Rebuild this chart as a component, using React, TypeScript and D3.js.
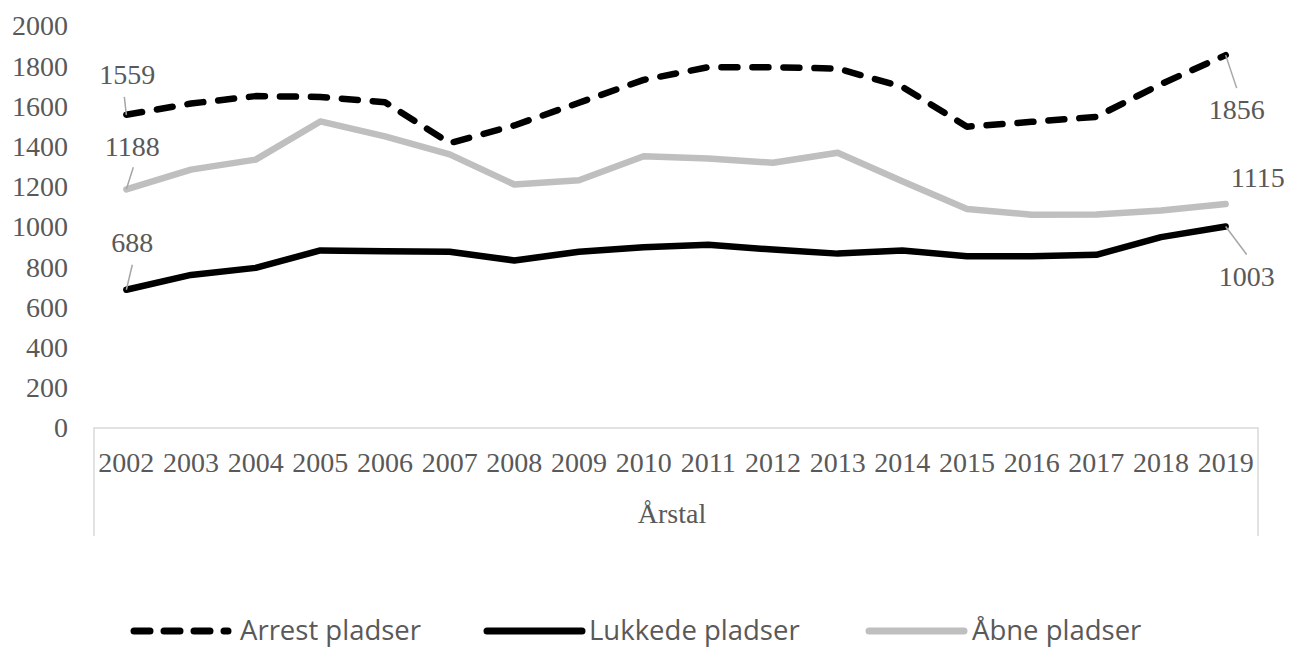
import React, { useEffect } from 'react';
import { line, scaleBand, scaleLinear } from 'd3';

const years = [
  '2002', '2003', '2004', '2005', '2006', '2007', '2008', '2009', '2010',
  '2011', '2012', '2013', '2014', '2015', '2016', '2017', '2018', '2019',
];
const arrestPladser = [
  1559, 1615, 1652, 1648, 1622, 1418, 1506, 1619, 1733, 1796, 1796, 1789,
  1698, 1500, 1524, 1549, 1712, 1856,
];
const lukkedePladser = [
  688, 762, 797, 884, 880, 877, 834, 877, 900, 912, 888, 868, 884, 855, 855,
  862, 950, 1003,
];
const aabnePladser = [
  1188, 1286, 1336, 1526, 1452, 1362, 1212, 1233, 1353, 1341, 1320, 1370,
  1228, 1090, 1062, 1063, 1083, 1115,
];
const yTicks = [0, 200, 400, 600, 800, 1000, 1200, 1400, 1600, 1800, 2000];
const seriesNames = ['Arrest pladser', 'Lukkede pladser', 'Åbne pladser'];
const xTitle = 'Årstal';

const W = 1290;
const H = 650;
const serif = '"Liberation Serif", "Times New Roman", serif';
const sans = '"Open Sans", "Noto Sans", sans-serif';
const textColor = '#595959';

const App: React.FC = () => {
  useEffect(() => {
    document.body.style.margin = '0';
  }, []);

  const xScale = scaleBand<string>().domain(years).range([94, 1258]);
  const yScale = scaleLinear().domain([0, 2000]).range([428, 26.2]);
  const cx = (i: number) => (xScale(years[i]) as number) + xScale.bandwidth() / 2;

  const lineGenerator = line<number>()
    .x((_, i) => cx(i))
    .y((d) => yScale(d));

  const series = [
    { name: seriesNames[0], values: arrestPladser, color: '#000000', dash: '16,15' },
    { name: seriesNames[1], values: lukkedePladser, color: '#000000', dash: undefined },
    { name: seriesNames[2], values: aabnePladser, color: '#bfbfbf', dash: undefined },
  ];

  // end-point labels: [series, index, label dx, label dy, leader end dx, leader end dy]
  const labels: Array<[number[], number, number, number, number, number]> = [
    [arrestPladser, 0, 1, -40, -2, -18],
    [aabnePladser, 0, 6, -43, 7, -22],
    [lukkedePladser, 0, 6, -47, 6, -25],
    [arrestPladser, 17, 11, 55, 11, 33],
    [aabnePladser, 17, 32, -26, 0, 0],
    [lukkedePladser, 17, 21, 50, 21, 28],
  ];

  const legend = [
    { x1: 134, x2: 228, tx: 240 },
    { x1: 487, x2: 582, tx: 589 },
    { x1: 869, x2: 964, tx: 972 },
  ];

  const boxTop = 428;
  const boxBottom = 536;
  const x0 = xScale.range()[0];
  const x1 = xScale.range()[1];

  return (
    <svg width={W} height={H} style={{ display: 'block', background: '#fff' }}>
      {/* category box */}
      <path
        d={`M${x0},${boxBottom}V${boxTop}H${x1}V${boxBottom}`}
        fill="none"
        stroke="#d9d9d9"
        strokeWidth={1.5}
      />

      {/* y tick labels */}
      {yTicks.map((t) => (
        <text
          key={t}
          x={68}
          y={yScale(t)}
          dy="0.33em"
          textAnchor="end"
          fontFamily={serif}
          fontSize={28}
          fill={textColor}
        >
          {t}
        </text>
      ))}

      {/* x tick labels */}
      {years.map((y, i) => (
        <text
          key={y}
          x={cx(i)}
          y={472}
          textAnchor="middle"
          fontFamily={serif}
          fontSize={28}
          fill={textColor}
        >
          {y}
        </text>
      ))}
      <text
        x={(x0 + x1) / 2 - 4}
        y={523}
        textAnchor="middle"
        fontFamily={serif}
        fontSize={28}
        fill={textColor}
      >
        {xTitle}
      </text>

      {/* lines */}
      {series
        .slice()
        .reverse()
        .map((s) => (
          <path
            key={s.name}
            d={lineGenerator(s.values) || ''}
            fill="none"
            stroke={s.color}
            strokeWidth={6.5}
            strokeDasharray={s.dash}
            strokeLinejoin="round"
            strokeLinecap="round"
          />
        ))}

      {/* data labels with leader lines */}
      {labels.map(([vals, i, dx, dy, lx, ly], k) => {
        const px = cx(i);
        const py = yScale(vals[i]);
        return (
          <g key={k}>
            {(lx !== 0 || ly !== 0) && (
              <line
                x1={px}
                y1={py}
                x2={px + lx}
                y2={py + ly}
                stroke="#a6a6a6"
                strokeWidth={1.5}
              />
            )}
            <text
              x={px + dx}
              y={py + dy}
              dy="0.33em"
              textAnchor="middle"
              fontFamily={serif}
              fontSize={28}
              fill={textColor}
            >
              {vals[i]}
            </text>
          </g>
        );
      })}

      {/* legend */}
      {series.map((s, k) => (
        <g key={s.name}>
          <line
            x1={legend[k].x1}
            y1={631}
            x2={legend[k].x2}
            y2={631}
            stroke={s.color}
            strokeWidth={7}
            strokeDasharray={s.dash ? '16,14' : undefined}
            strokeLinecap="round"
          />
          <text
            x={legend[k].tx}
            y={640}
            fontFamily={sans}
            fontSize={27.5}
            fill={textColor}
          >
            {s.name}
          </text>
        </g>
      ))}
    </svg>
  );
};

export default App;
